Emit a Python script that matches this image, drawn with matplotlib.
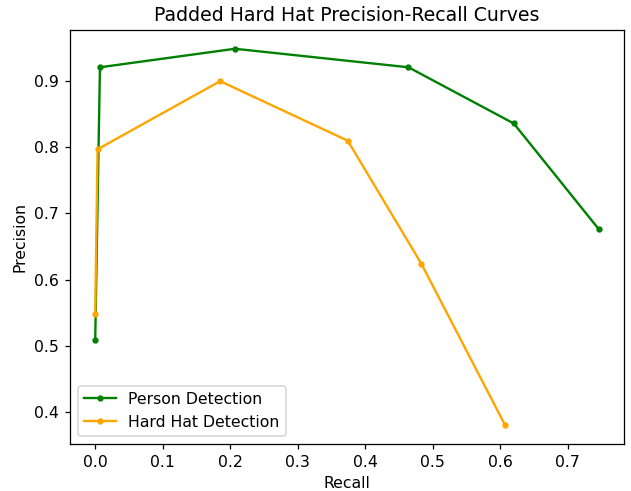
import matplotlib
matplotlib.use('Agg')
import matplotlib.pyplot as plt

# precision-recall points
person_recall = [0.0, 0.007, 0.207, 0.464, 0.620, 0.746]
person_precision = [0.509, 0.921, 0.949, 0.921, 0.836, 0.676]

hardhat_recall = [0.0, 0.0034, 0.185, 0.374, 0.483, 0.607]
hardhat_precision = [0.548, 0.797, 0.900, 0.810, 0.624, 0.380]

DPI = 113
fig, ax = plt.subplots(figsize=(631 / DPI, 491 / DPI), dpi=DPI)
fig.subplots_adjust(left=0.111, right=0.989, top=0.939, bottom=0.096)

ax.plot(person_recall, person_precision, marker='.', color='green',
        label='Person Detection')
ax.plot(hardhat_recall, hardhat_precision, marker='.', color='orange',
        label='Hard Hat Detection')

ax.set_xlabel('Recall')
ax.set_ylabel('Precision')
ax.set_title('Padded Hard Hat Precision-Recall Curves')
ax.legend(loc='lower left')

fig.savefig('out.png', dpi=DPI)
